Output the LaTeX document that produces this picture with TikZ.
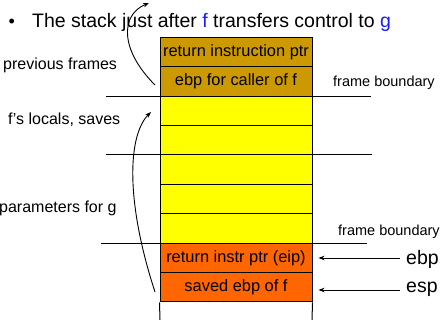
\documentclass[tikz,border=0pt]{standalone}
\usepackage{fontspec}
\setmainfont{Liberation Sans}
\usetikzlibrary{arrows.meta}
\definecolor{gold}{HTML}{CC9900}
\definecolor{yel}{HTML}{FFFF00}
\definecolor{org}{HTML}{FF6600}
\definecolor{fblue}{HTML}{1A1AFF}
\tikzset{
  cell/.style={draw, line width=1pt, minimum width=152pt, minimum height=29.4pt, inner sep=0pt,
    font=\fontsize{16.4}{18}\selectfont},
  lbl/.style={anchor=west, inner sep=0pt, font=\fontsize{16}{18}\selectfont},
  small/.style={anchor=west, inner sep=0pt, font=\fontsize{14.5}{16}\selectfont},
  big/.style={anchor=west, inner sep=0pt, font=\fontsize{19.5}{22}\selectfont},
  bound/.style={line width=1pt},
  curvearrow/.style={line width=0.9pt, -{Stealth[length=6pt,width=4.5pt]}},
  ptrarrow/.style={line width=0.9pt, -{Stealth[length=6pt,width=4.5pt]}},
}
\begin{document}
\begin{tikzpicture}[x=1pt,y=-1pt]
\useasboundingbox (0,0) rectangle (441,320);
% stack cells
\node[cell, fill=gold] (r1) at (236,52.0) {return instruction ptr};
\node[cell, fill=gold] (r2) at (236,81.4) {ebp for caller of f};
\node[cell, fill=yel] (r3) at (236,110.8) {};
\node[cell, fill=yel] (r4) at (236,140.2) {};
\node[cell, fill=yel] (r5) at (236,169.6) {};
\node[cell, fill=yel] (r6) at (236,199.0) {};
\node[cell, fill=yel] (r7) at (236,228.4) {};
\node[cell, fill=org] (r8) at (236,257.8) {return instr ptr (eip)};
\node[cell, fill=org] (r9) at (236,287.2) {saved ebp of f};
\coordinate (bl) at (160,320);
\coordinate (br) at (312,320);
\draw[line width=1pt] (r9.south west) -- (bl);
\draw[line width=1pt] (r9.south east) -- (br);
% frame boundary lines
\coordinate (f1a) at (106,96.1); \coordinate (f1b) at (371,96.1);
\coordinate (f2a) at (106,154.9); \coordinate (f2b) at (372,154.9);
\coordinate (f3a) at (101,243.1); \coordinate (f3b) at (367,243.1);
\draw[bound] (f1a) -- (f1b);
\draw[bound] (f2a) -- (f2b);
\draw[bound] (f3a) -- (f3b);
% title
\node[inner sep=0pt, font=\fontsize{18}{20}\selectfont, anchor=center] (bullet) at (11.8,23) {•};
\node[big, anchor=base west] (title) at (32,28) {The stack just after {\color{fblue}f} transfers control to {\color{fblue}g}};
% labels
\node[lbl] (prev) at (3,65) {previous frames};
\node[lbl] (locals) at (8,120) {f's locals, saves};
\node[lbl] (params) at (-1,208) {parameters for g};
\node[small] (fb1) at (333,83) {frame boundary};
\node[small] (fb2) at (338,232) {frame boundary};
\node[big] (ebp) at (406,259) {ebp};
\node[big] (esp) at (406,289) {esp};
% pointer arrows
\coordinate (ebps) at (400,258);
\coordinate (esps) at (400,290);
\draw[ptrarrow, shorten >=6pt] (ebps) -- (ebps -| r8.east);
\draw[ptrarrow, shorten >=6pt] (esps) -- (esps -| r9.east);
% curved arrows
\coordinate (c1s) at (155,85);
\coordinate (c1e) at (149,3);
\coordinate (c2s) at (155,292);
\coordinate (c2e) at (151,112);
\draw[curvearrow] (c1s) .. controls (120,50) and (120,15) .. (c1e);
\draw[curvearrow] (c2s) .. controls (125,200) and (128,135) .. (c2e);
\end{tikzpicture}
\end{document}
